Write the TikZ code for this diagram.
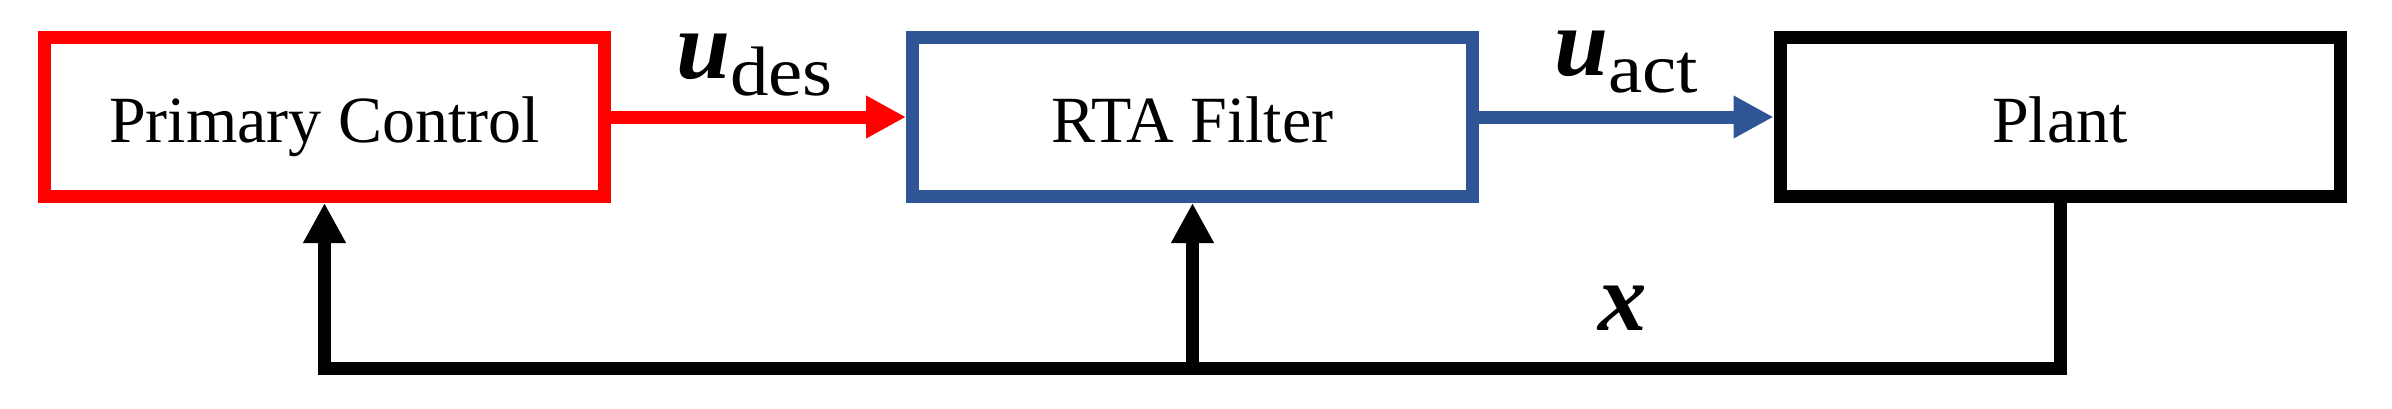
\documentclass[tikz,border=0pt]{standalone}
\usepackage{fontspec}
\usepackage{graphicx}
\setmainfont{Liberation Serif}
\usetikzlibrary{arrows.meta,calc}
\definecolor{myred}{HTML}{FF0000}
\definecolor{myblue}{HTML}{2F5597}
\tikzset{
  blockbox/.style={draw, line width=13pt, minimum width=560pt, minimum height=159pt, inner sep=0pt, fill=white},
  blocktext/.style={anchor=base, inner sep=0pt, font=\fontsize{66}{66}\selectfont},
  flowarrow/.style={line width=13pt, -{Triangle[length=40pt,width=40pt]}},
  fbline/.style={line width=13pt, line join=miter},
  siglabel/.style={anchor=base west, inner sep=0pt}
}
\newcommand{\bigsym}[1]{{\fontsize{97}{97}\selectfont\bfseries\itshape #1}}
\newcommand{\subsym}[1]{\raisebox{-17pt}{\scalebox{1.1}[1]{\fontsize{70}{70}\selectfont #1}}}
\begin{document}
\begin{tikzpicture}[x=1pt,y=-1pt]
\useasboundingbox (0,0) rectangle (2392,408);
\node[blockbox, draw=myred] (pc) at (324.5,117) {};
\node[blockbox, draw=myblue] (rta) at (1192.5,117) {};
\node[blockbox, draw=black] (plant) at (2060,117) {};
\node[blocktext] (pct) at (324.5,142) {Primary Control};
\node[blocktext] (rtat) at (1192.5,142) {RTA Filter};
\node[blocktext] (plantt) at (2060,142) {Plant};
\draw[flowarrow, myred] (pc.east) -- (rta.west);
\draw[flowarrow, myblue] (rta.east) -- (plant.west);
\coordinate (bot) at (0,368);
\draw[fbline] (plant.south) |- (bot -| pc.south) -- ($(pc.south)+(0,38)$);
\draw[flowarrow] ($(pc.south)+(0,40)$) -- (pc.south);
\draw[flowarrow] (bot -| rta.south) -- (rta.south);
\node[siglabel] (udes) at (676,78) {\bigsym{u}\subsym{des}};
\node[siglabel] (uact) at (1554,75) {\bigsym{u}\subsym{act}};
\node[siglabel] (xlab) at (1598,330) {\bigsym{x}};
\end{tikzpicture}
\end{document}
